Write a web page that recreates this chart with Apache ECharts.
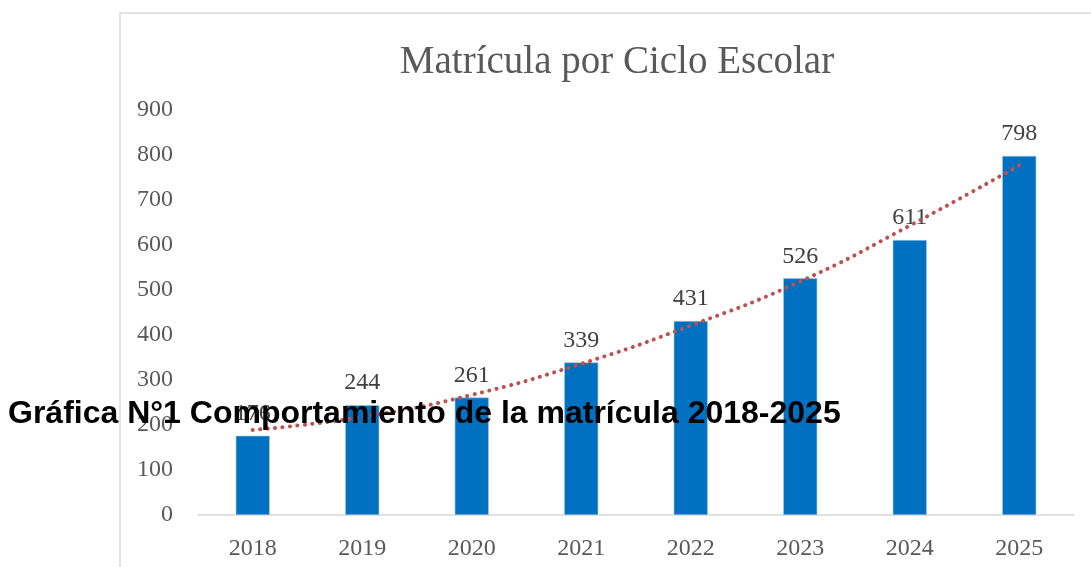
<html>
<head>
<meta http-equiv="Content-Type" content="text/html; charset=UTF-8">
<title>Matrícula por Ciclo Escolar</title>
<style>
	html, body { margin: 0; padding: 0; background: #fff; }
	#chart { width: 1091px; height: 567px; }
</style>
<script type="text/javascript" src="https://cdn.jsdelivr.net/npm/echarts@6/dist/echarts.min.js"></script>
</head>
<body>
	<div id="chart"></div>
	<script type="text/javascript">
		// ciclos escolares
		var years = ['2018', '2019', '2020', '2021', '2022', '2023', '2024', '2025'];
		// matricula por ciclo
		var matricula = [176, 244, 261, 339, 431, 526, 611, 798];
		// linea de tendencia
		var tendencia = [189, 218, 267, 336, 421, 519, 643, 777];
		var yTicks = [0, 100, 200, 300, 400, 500, 600, 700, 800, 900];

		var serif = '"Liberation Serif", serif';

		var myChart = echarts.init(document.getElementById('chart'));
		var option = {
			animation: false,
			title: {
				text: 'Matrícula por Ciclo Escolar',
				left: 612,
				top: 38,
				textAlign: 'center',
				textStyle: {
					color: '#595959',
					fontFamily: serif,
					fontWeight: 'normal',
					fontSize: 39
				}
			},
			grid: {
				left: 198,
				right: 17,
				top: 110,
				bottom: 52
			},
			xAxis: {
				type: 'category',
				data: years,
				axisLine: { lineStyle: { color: '#d9d9d9', width: 1.5 } },
				axisTick: { show: false },
				axisLabel: {
					color: '#595959',
					fontFamily: serif,
					fontSize: 24,
					margin: 22
				}
			},
			yAxis: {
				type: 'value',
				min: yTicks[0],
				max: yTicks[yTicks.length - 1],
				interval: 100,
				splitLine: { show: false },
				axisLine: { show: false },
				axisTick: { show: false },
				axisLabel: {
					color: '#595959',
					fontFamily: serif,
					fontSize: 24,
					margin: 25,
					padding: [5, 0, 0, 0]
				}
			},
			series: [
				{
					name: 'Matrícula',
					type: 'bar',
					data: matricula,
					barWidth: 34,
					itemStyle: {
						color: '#0070C0',
						borderColor: '#9dc3e6',
						borderWidth: 0.6
					},
					label: {
						show: true,
						position: 'top',
						distance: 10,
						color: '#404040',
						fontFamily: serif,
						fontSize: 24
					},
					z: 2
				},
				{
					name: 'Tendencia',
					type: 'line',
					data: tendencia,
					smooth: true,
					symbol: 'none',
					lineStyle: {
						color: '#C0504D',
						width: 4,
						type: [0.1, 7.4],
						cap: 'round'
					},
					z: 3
				}
			],
			graphic: [
				{
					type: 'rect',
					z: -10,
					shape: { x: 120, y: 13, width: 1000, height: 600 },
					style: { fill: 'none', stroke: '#d9d9d9', lineWidth: 1.5 }
				},
				{
					type: 'text',
					z: 100,
					x: 8,
					y: 414,
					style: {
						text: 'Gráfica N°1 Comportamiento de la matrícula 2018-2025',
						fill: '#000',
						font: 'bold 32px "Liberation Sans", Arial, sans-serif',
						textVerticalAlign: 'middle'
					}
				}
			]
		};
		myChart.setOption(option);
	</script>
</body>
</html>
